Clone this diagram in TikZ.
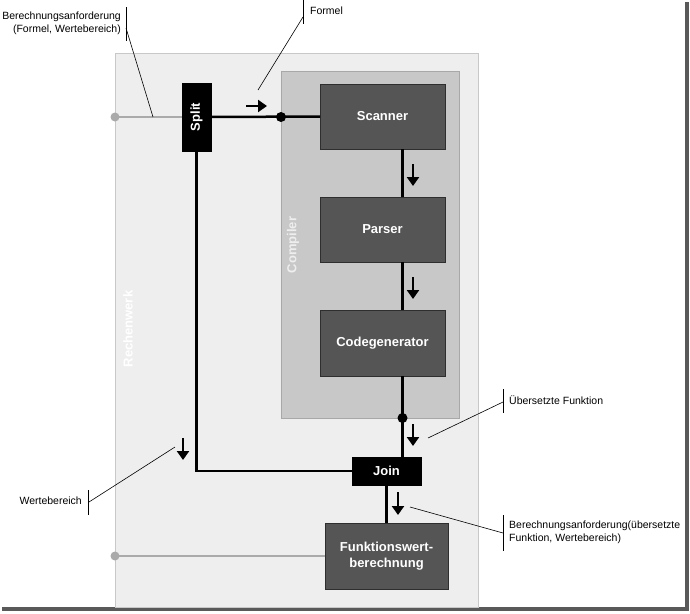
\documentclass[tikz,border=0pt]{standalone}
\usepackage{fontspec}
\setmainfont{Liberation Sans}
\usetikzlibrary{arrows.meta}
\definecolor{outerbg}{HTML}{EEEEEE}
\definecolor{outerbd}{HTML}{C8C8C8}
\definecolor{compbg}{HTML}{C8C8C8}
\definecolor{compbd}{HTML}{A8A8A8}
\definecolor{boxbg}{HTML}{555555}
\definecolor{boxbd}{HTML}{2E2E2E}
\definecolor{grayline}{HTML}{AAAAAA}
\tikzset{
  darkbox/.style={draw=boxbd, line width=1pt, fill=boxbg, inner sep=0pt, outer sep=0pt,
    text=white, font=\fontsize{13}{16}\selectfont\bfseries, align=center},
  blackbox/.style={draw=black, fill=black, inner sep=0pt, outer sep=0pt,
    text=white, font=\fontsize{13}{15}\selectfont\bfseries},
  flow/.style={line width=2.5pt, black},
  grayflow/.style={line width=2.5pt, grayline},
  smallarrow/.style={line width=2.8pt, -{Triangle[length=9pt,width=12pt]}},
  callout/.style={line width=0.6pt, black},
  calloutbar/.style={line width=1pt, black},
  label/.style={font=\fontsize{10.5}{13}\selectfont, inner sep=0pt},
}
\begin{document}
\begin{tikzpicture}[x=1pt,y=-1pt]
\useasboundingbox (0,0) rectangle (690,613);
\fill[white] (0,0) rectangle (690,613);
% shadow frame
\fill[black!65] (685,2) rectangle (689,611);
\fill[black!65] (2,607) rectangle (689,611);
% containers
\node[draw=outerbd, fill=outerbg, line width=1pt, minimum width=363pt, minimum height=554pt, inner sep=0pt, outer sep=0pt] (rechenwerk) at (296.5,330) {};
\node[draw=compbd, fill=compbg, line width=1pt, minimum width=178pt, minimum height=347pt, inner sep=0pt, outer sep=0pt] (compiler) at (370,244.5) {};
\node[rotate=90, text=white, font=\fontsize{13}{15}\selectfont\bfseries] (rwlabel) at (128,329) {Rechenwerk};
\node[rotate=90, text=outerbg, font=\fontsize{13}{15}\selectfont\bfseries] (complabel) at (293,245) {Compiler};
% boxes
\node[darkbox, minimum width=125pt, minimum height=65pt] (scanner) at (382.5,116.5) {Scanner};
\node[darkbox, minimum width=125pt, minimum height=65pt] (parser) at (382.5,229.5) {Parser};
\node[darkbox, minimum width=125pt, minimum height=66pt] (codegen) at (382.5,343) {Codegenerator};
\node[darkbox, minimum width=123pt, minimum height=66pt] (funk) at (386.5,556) {Funktionswert-\\berechnung};
\node[blackbox, minimum width=29pt, minimum height=68pt] (split) at (196.5,117) {};
\node[rotate=90, text=white, font=\fontsize{13}{15}\selectfont\bfseries] (splitlabel) at (split.center) {Split};
\node[blackbox, minimum width=69pt, minimum height=28pt] (join) at (386.5,471) {Join};
% connectors
\coordinate (in1) at (115,117);
\coordinate (in2) at (115,556);
\draw[grayflow] (in1) -- (split.west);
\fill[grayline] (in1) circle (4.5pt);
\draw[grayflow] (in2) -- (funk.west);
\fill[grayline] (in2) circle (4.5pt);
\draw[flow] (split.east) -- (scanner.west);
\fill (compiler.west |- split.east) circle (5pt);
\draw[flow] ([xshift=20pt]scanner.south) -- ([xshift=20pt]parser.north);
\draw[flow] ([xshift=20pt]parser.south) -- ([xshift=20pt]codegen.north);
\draw[flow] ([xshift=20pt]codegen.south) -- ([xshift=20pt]codegen.south |- join.north);
\fill ([xshift=20pt]codegen.south |- compiler.south) circle (5pt);
\draw[flow] (split.south) |- (join.west);
\draw[flow] (join.south) -- (funk.north);
% small direction arrows
\draw[smallarrow] (246,106) -- (267,106);
\draw[smallarrow] (413,164) -- (413,186);
\draw[smallarrow] (413,277) -- (413,299);
\draw[smallarrow] (413,424) -- (413,446);
\draw[smallarrow] (183,438) -- (183,460);
\draw[smallarrow] (398,492) -- (398,515);
% callouts
\node[label, align=right, anchor=east] (c1) at (121,23) {Berechnungsanforderung\\(Formel, Wertebereich)};
\draw[calloutbar] (126,7) -- (126,41);
\draw[callout] (126,28) -- (153,117);
\node[label, anchor=west] (c2) at (310,11) {Formel};
\draw[calloutbar] (303,0) -- (303,24);
\draw[callout] (303,17) -- (258,90);
\node[label, anchor=west] (c3) at (509,400) {Übersetzte Funktion};
\draw[calloutbar] (503,389) -- (503,413);
\draw[callout] (503,402) -- (428,438);
\node[label, anchor=west, align=left] (c4) at (509,532) {Berechnungsanforderung(übersetzte\\Funktion, Wertebereich)};
\draw[calloutbar] (503,515) -- (503,551);
\draw[callout] (503,533) -- (410,507);
\node[label, anchor=east] (c5) at (82,501) {Wertebereich};
\draw[calloutbar] (88,490) -- (88,515);
\draw[callout] (89,502) -- (175,447);
\end{tikzpicture}
\end{document}
